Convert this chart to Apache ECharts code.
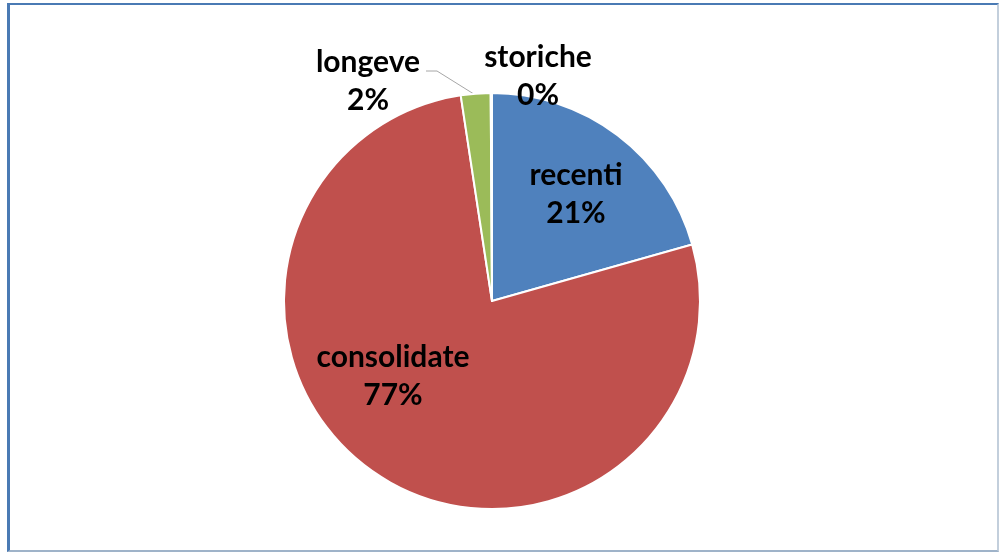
<!DOCTYPE html>
<html>
<head>
<meta charset="utf-8">
<script src="https://cdn.jsdelivr.net/npm/echarts@6/dist/echarts.min.js"></script>
<style>
    body { margin: 0; background: #fff; }
    #frame {
        position: absolute; left: 7px; top: 3px; width: 987px; height: 545px;
        border-left: 3px solid #4a7ab4; border-top: 2px solid #4a7ab4;
        border-right: 2px solid #c3cfdc; border-bottom: 2px solid #9fb3c9;
    }
    #chart { position: absolute; left: 0; top: 0; width: 1000px; height: 552px; }
</style>
</head>
<body>
<div id="frame"></div>
<div id="chart"></div>
<script>
let categories = ['recenti', 'consolidate', 'longeve', 'storiche'];
let values = [20.6, 76.9, 2.3, 0.1];
let colors = ['#4f81bd', '#c0504d', '#9bbb59', '#8064a2'];

// label centres
let labelPos = [[576, 194], [393, 376], [368, 81], [538, 76]];

let eChart = echarts.init(document.getElementById('chart'));

let pieData = [];
for (let i = 0; i < categories.length; i++) {
    let outside = i >= 2;
    pieData.push({
        name: categories[i],
        value: values[i],
        itemStyle: { color: colors[i] },
        label: { position: outside ? 'outside' : 'inside' },
        labelLine: { show: i === 2 }
    });
}

let option = {
    animation: false,
    backgroundColor: 'transparent',
    series: [
        {
            type: 'pie',
            center: [492, 301],
            radius: 208,
            startAngle: 90,
            clockwise: true,
            avoidLabelOverlap: false,
            itemStyle: {
                borderColor: '#ffffff',
                borderWidth: 2
            },
            label: {
                show: true,
                color: '#000',
                fontFamily: 'Lato',
                fontWeight: 'bold',
                fontSize: 30,
                lineHeight: 38,
                formatter: function (p) {
                    return p.name + '\n' + Math.round(p.percent) + '%';
                }
            },
            labelLine: {
                lineStyle: { color: '#a6a6a6', width: 1 }
            },
            labelLayout: function (params) {
                let pos = labelPos[params.dataIndex];
                let res = { x: pos[0], y: pos[1], align: 'center', verticalAlign: 'middle' };
                if (params.dataIndex === 2) {
                    res.labelLinePoints = [[477, 96], [437, 71], [426, 71]];
                }
                return res;
            },
            data: pieData
        }
    ]
};

eChart.setOption(option);
</script>
</body>
</html>
